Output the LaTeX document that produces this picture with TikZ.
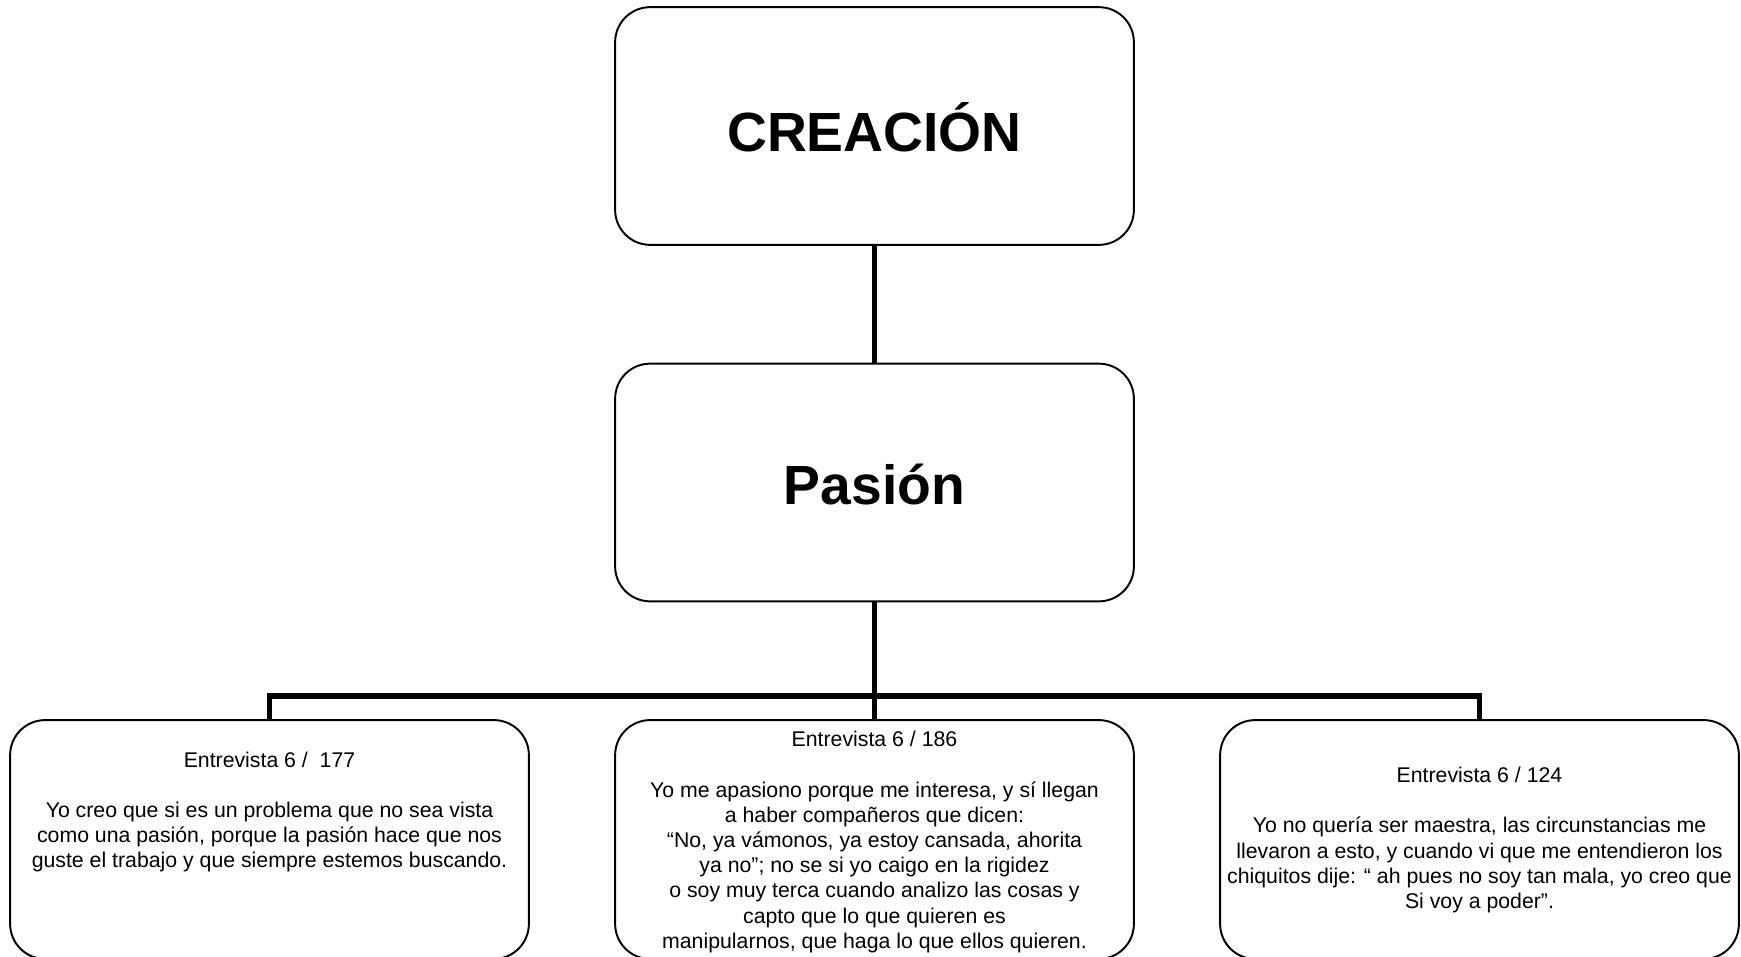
\documentclass[tikz,border=0pt]{standalone}
\usepackage{fontspec}
\setmainfont{Liberation Sans}
\tikzset{
  caja/.style={draw, line width=1pt, rounded corners=0.63cm, minimum width=9.34cm, minimum height=4.28cm},
  cajabaja/.style={caja, minimum height=4.3cm},
  titulo/.style={font=\fontsize{28.3}{32}\selectfont\bfseries},
  cita/.style={align=center, font=\fontsize{10.9}{12.9}\selectfont},
  linea/.style={line width=2.7pt, line join=miter}
}
\begin{document}
\begin{tikzpicture}[x=0.018cm, y=-0.018cm]
  \useasboundingbox (0,0) rectangle (1741,956);
  % Cajas principales
  \node[caja] (creacion) at (874.5,126) {};
  \node[titulo] (tcreacion) at (874.5,127) {CREACIÓN};
  \node[caja] (pasion) at (874.5,482.5) {};
  \node[titulo] (tpasion) at (874.5,485) {Pasión};
  % Cajas de entrevistas
  \node[cajabaja] (izq) at (269.5,839.5) {};
  \node[cajabaja] (centro) at (874.5,839.5) {};
  \node[cajabaja] (der) at (1479.5,839.5) {};
  \node[cita] (tizq) at (269.5,812) {Entrevista 6 /\ \ 177\\[12.9pt]
    Yo creo que si es un problema que no sea vista\\
    como una pasión, porque la pasión hace que nos\\
    guste el trabajo y que siempre estemos buscando.};
  \node[cita] (tcentro) at (874.5,842) {Entrevista 6 / 186\\[12.9pt]
    Yo me apasiono porque me interesa, y sí llegan\\
    a haber compañeros que dicen:\\
    “No, ya vámonos, ya estoy cansada, ahorita\\
    ya no”; no se si yo caigo en la rigidez\\
    o soy muy terca cuando analizo las cosas y\\
    capto que lo que quieren es\\
    manipularnos, que haga lo que ellos quieren.};
  \node[cita] (tder) at (1479.5,840) {Entrevista 6 / 124\\[12.9pt]
    Yo no quería ser maestra, las circunstancias me\\
    llevaron a esto, y cuando vi que me entendieron los\\
    chiquitos dije: “ ah pues no soy tan mala, yo creo que\\
    Si voy a poder”.};
  % Conectores
  \coordinate (bus) at (874.5,696);
  \draw[linea] (creacion) -- (pasion);
  \draw[linea] (pasion) -- (centro);
  \draw[linea] (izq.north) |- (bus) -| (der.north);
\end{tikzpicture}
\end{document}
